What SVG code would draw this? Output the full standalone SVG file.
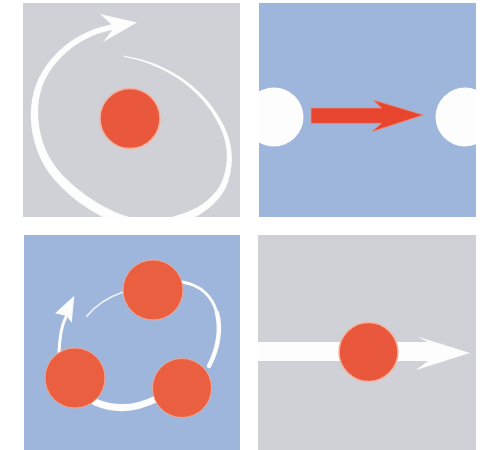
<svg xmlns="http://www.w3.org/2000/svg" width="482" height="450" viewBox="0 0 482 450">
<style>
.gray{fill:#d0d1d6}
.blue{fill:#9eb6dc}
.ball{fill:#e9573d;stroke:#f3b3a0;stroke-width:1.5}
.ball3{fill:#ea5f3f;stroke:#f0a892;stroke-width:1}
.white{fill:#fdfdfd}
.wline{fill:none;stroke:#fdfdfd;stroke-linecap:round}
</style>
<defs>
<clipPath id="c1"><rect x="23" y="3" width="217" height="214"/></clipPath>
<clipPath id="c2"><rect x="259" y="3" width="217" height="214"/></clipPath>
<clipPath id="c4"><rect x="258" y="235" width="218" height="215"/></clipPath>
</defs>
<rect width="482" height="450" fill="#ffffff"/>

<g id="panel1" clip-path="url(#c1)">
<rect class="gray" x="23" y="3" width="217" height="214"/>
<circle class="ball" cx="130" cy="118.5" r="30"/>
<path class="white" d="M122.9,55.5 L136.6,58.3 Q150.2,61 168.2,70 Q186.1,79 200.5,93.3 Q214.9,107.5 224.2,126.5 Q233.5,145.4 231.6,165 Q229.6,184.5 221.1,195.5 Q212.5,206.5 202.3,213 Q192.1,219.4 176.6,224.4 Q161.1,229.4 144.4,228.7 Q127.6,228 111.8,221.3 Q95.9,214.6 81.2,204.1 Q66.4,193.5 54.7,180.1 Q42.9,166.7 37,150 Q31,133.2 30.8,116.2 Q30.6,99.1 36,84.8 Q41.4,70.4 52.7,57.6 Q64,44.7 77.5,37.1 Q90.9,29.4 101.2,26.9 L111.4,24.3 L100,14 L137,22.5 L103,42 L112.6,29.7 L102.9,32.2 Q93.1,34.6 80.6,42 Q68,49.3 57.3,61.5 Q46.6,73.6 42,87.3 Q37.4,100.9 38.2,116.9 Q39,132.8 45.1,148.1 Q51.2,163.3 62.4,174.9 Q73.6,186.5 86.9,196 Q100.1,205.4 114.3,211.7 Q128.4,218 143.7,219.3 Q158.9,220.6 173.4,216.6 Q187.9,212.6 197.7,207.1 Q207.5,201.5 216,191.5 Q224.4,181.5 226.5,163.1 Q228.5,144.6 219.8,126.6 Q211.1,108.5 197.5,94.8 Q183.9,81 166.9,72 Q149.8,63 136.5,59.8 L123.1,56.5 Z"/>
</g>

<g id="panel2">
<rect class="blue" x="259" y="3" width="217" height="214"/>
<g clip-path="url(#c2)">
<circle class="white" cx="274" cy="117" r="29.5"/>
<circle class="white" cx="465" cy="117" r="29.5"/>
</g>
<polygon fill="#e8452f" stroke="#ee8a78" stroke-width="0.8" points="311,108 381.5,108 373.3,100 423.3,115 371.7,131.7 381.5,123.3 311,123.3"/>
</g>

<g id="panel3">
<rect class="blue" x="24" y="235" width="216" height="215"/>
<g id="connectors3">
<path class="wline" stroke-width="7" d="M95,402 Q125,415 158,398"/>
<path class="wline" stroke-width="3" d="M182,282 C220,288 228,330 209,366"/>
<path class="wline" stroke-width="4.5" d="M216.9,312.75 C221.25,328.5 218.5,348 209,366"/>
<path class="wline" stroke-width="3" d="M59,352 Q60,328 66,317"/>
<polygon class="white" points="74.3,295.7 55,313.3 66.7,316 71.7,322.7"/>
<path class="wline" stroke-width="1.8" stroke-opacity="0.85" d="M123,292 Q100,300 87,316"/>
</g>
<circle class="ball3" cx="153" cy="290" r="30"/>
<circle class="ball3" cx="75" cy="378" r="30"/>
<circle class="ball3" cx="182" cy="388" r="29.5"/>
</g>

<g id="panel4" clip-path="url(#c4)">
<rect class="gray" x="258" y="235" width="218" height="215"/>
<rect class="white" x="258" y="342" width="172" height="19"/>
<polygon class="white" points="417.5,336.5 470,353 416,370 428,361 428,342"/>
<circle class="ball" fill="#e8453a" cx="368.5" cy="352" r="29.5"/>
</g>
</svg>
